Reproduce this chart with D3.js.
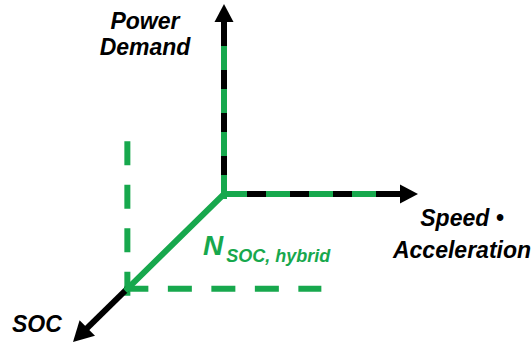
<!DOCTYPE html>
<html>
<head>
<meta charset="utf-8">
<script src="https://cdn.jsdelivr.net/npm/d3@7"></script>
<style>
  html, body { margin: 0; padding: 0; background: #fff; }
  svg { display: block; }
  text { font-family: "Liberation Sans", Arial, sans-serif; font-weight: bold; font-style: italic; }
</style>
</head>
<body>
<svg id="chart" width="531" height="345"></svg>
<script>
// ---- data ----
const axisKeys = ["speed", "power", "soc"];
const axisLabels = [["Speed •", "Acceleration"], ["Power", "Demand"], ["SOC"]];
const axisEnd = [1, 1, 1];
// operating point N_SOC,hybrid on the SOC axis, with its dashed projections
const pointSoc = 0.64;
const pointSpeedReach = 1.0;   // horizontal dashed projection length (speed units)
const pointPowerReach = 0.78;  // vertical dashed projection length (power units)
const pointLabelMain = "N";
const pointLabelSub = "SOC, hybrid";

// ---- layout ----
const W = 531, H = 345;
const origin = [224, 194];
const green = "#17a84d", black = "#000";
const lw = 6;

const speedX = d3.scaleLinear().domain([0, 1]).range([0, 194]);
const powerY = d3.scaleLinear().domain([0, 1]).range([0, -190]);
const socX = d3.scaleLinear().domain([0, 1]).range([0, -151]);
const socY = d3.scaleLinear().domain([0, 1]).range([0, 148]);

function proj(s, p, c) {
  return [origin[0] + speedX(s) + socX(c), origin[1] + powerY(p) + socY(c)];
}

const svg = d3.select("#chart");

function arrow(from, tip, color, len = 18, hw = 9.5) {
  const dx = tip[0] - from[0], dy = tip[1] - from[1];
  const L = Math.hypot(dx, dy), ux = dx / L, uy = dy / L;
  const base = [tip[0] - ux * len, tip[1] - uy * len];
  svg.append("line")
    .attr("x1", from[0]).attr("y1", from[1])
    .attr("x2", base[0] + ux * 1).attr("y2", base[1] + uy * 1)
    .attr("stroke", color).attr("stroke-width", lw);
  svg.append("path")
    .attr("d", d3.line()([
      tip,
      [base[0] - uy * hw, base[1] + ux * hw],
      [base[0] + uy * hw, base[1] - ux * hw]
    ]) + "Z")
    .attr("fill", color);
}

const ends = axisKeys.map((k, i) => proj(i === 0 ? axisEnd[0] : 0, i === 1 ? axisEnd[1] : 0, i === 2 ? axisEnd[2] : 0));
const corner = proj(0, 0, pointSoc);

// helper dashed lines from the point
svg.append("line")
  .attr("x1", corner[0]).attr("y1", corner[1] + 7)
  .attr("x2", corner[0]).attr("y2", proj(0, pointPowerReach, pointSoc)[1])
  .attr("stroke", green).attr("stroke-width", lw)
  .attr("stroke-dasharray", "24,19.5");
svg.append("line")
  .attr("x1", corner[0] - 3).attr("y1", corner[1])
  .attr("x2", proj(pointSpeedReach, 0, pointSoc)[0]).attr("y2", corner[1])
  .attr("stroke", green).attr("stroke-width", lw)
  .attr("stroke-dasharray", "24,19.5");

// speed & power axes (black) with green dashes overlay
arrow(origin, ends[0], black);
arrow(origin, ends[1], black);
svg.append("line")
  .attr("x1", origin[0]).attr("y1", origin[1] + 5)
  .attr("x2", origin[0]).attr("y2", ends[1][1])
  .attr("stroke", green).attr("stroke-width", lw)
  .attr("stroke-dasharray", "24,19,24,19,24,19,24,2000");
svg.append("line")
  .attr("x1", origin[0] - 1).attr("y1", origin[1])
  .attr("x2", ends[0][0]).attr("y2", origin[1])
  .attr("stroke", green).attr("stroke-width", lw)
  .attr("stroke-dasharray", "24,19,24,19,24,19,24,2000");

// SOC axis: black beyond point, green from origin to point
arrow(corner, ends[2], black, 20, 11);
svg.append("line")
  .attr("x1", origin[0]).attr("y1", origin[1])
  .attr("x2", corner[0]).attr("y2", corner[1])
  .attr("stroke", green).attr("stroke-width", lw)
  .attr("stroke-linecap", "square");

// labels
const fs = 23;
svg.append("text").attr("x", 145).attr("y", 29).attr("text-anchor", "middle")
  .attr("font-size", fs).attr("fill", black).text(axisLabels[1][0]);
svg.append("text").attr("x", 145).attr("y", 55).attr("text-anchor", "middle")
  .attr("font-size", fs).attr("fill", black).text(axisLabels[1][1]);
svg.append("text").attr("x", 462).attr("y", 226).attr("text-anchor", "middle")
  .attr("font-size", fs).attr("fill", black).text(axisLabels[0][0]);
svg.append("text").attr("x", 462).attr("y", 258).attr("text-anchor", "middle")
  .attr("font-size", fs).attr("fill", black).text(axisLabels[0][1]);
svg.append("text").attr("x", 12).attr("y", 332)
  .attr("font-size", fs).attr("fill", black).text(axisLabels[2][0]);

const nt = svg.append("text").attr("x", 203).attr("y", 255).attr("fill", green);
nt.append("tspan").attr("font-size", 28).text(pointLabelMain);
nt.append("tspan").attr("font-size", 18).attr("dy", 7).attr("dx", 3).text(pointLabelSub);
</script>
</body>
</html>
